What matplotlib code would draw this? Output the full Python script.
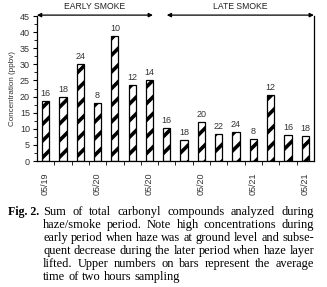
import numpy as np
import matplotlib
matplotlib.use('Agg')
import matplotlib.pyplot as plt

# bar heights (ppbv) and sampling hour labels
conc = [18.6, 19.8, 30.1, 17.9, 38.8, 23.6, 25.2,
        10.1, 6.5, 12.0, 8.4, 8.9, 6.8, 20.5, 8.1, 7.8]
hours = ['16', '18', '24', '8', '10', '12', '14',
         '16', '18', '20', '22', '24', '8', '12', '16', '18']
date_pos = [0, 3, 6, 9, 12, 15]
date_labels = ['05/19', '05/20', '05/20', '05/20', '05/21', '05/21']
periods = ['EARLY SMOKE', 'LATE SMOKE']
period_span = [(-0.5, 6.2), (7.0, 15.5)]

caption = [
    "Sum of total carbonyl compounds analyzed during",
    "haze/smoke period. Note high concentrations during",
    "early period when haze was at ground level and subse-",
    "quent decrease during the later period when haze layer",
    "lifted. Upper numbers on bars represent the average",
    "time of two hours sampling",
]

plt.rcParams['hatch.linewidth'] = 2.6
sans = 'Liberation Sans'
serif = 'Liberation Serif'

fig = plt.figure(figsize=(3.27, 2.87), dpi=100)
ax = fig.add_axes([0.113, 0.439, 0.847, 0.505])

x = np.arange(len(conc))
ax.bar(x, conc, width=0.42, color='white', edgecolor='black',
       hatch='//', linewidth=0.9)
for xi, v, h in zip(x, conc, hours):
    ax.text(xi, v + 1.0, h, ha='center', va='bottom', fontsize=6.5,
            family=sans, color='#333333')

ax.set_xlim(-0.5, 15.5)
ax.set_ylim(0, 45)
ax.set_yticks(np.arange(0, 46, 5))
ax.set_yticks(np.arange(0, 46, 2.5), minor=True)
ax.set_xticks(date_pos)
ax.set_xticklabels(date_labels, rotation=90)
ax.set_xticks(np.arange(0.5, 15.5, 1), minor=True)
ax.tick_params(axis='x', which='major', length=0, pad=8)
ax.tick_params(axis='x', which='minor', length=3, direction='out')
ax.tick_params(axis='y', which='major', length=3, direction='out', pad=2)
ax.tick_params(axis='y', which='minor', length=2, direction='out')
for lab in ax.get_xticklabels() + ax.get_yticklabels():
    lab.set_fontsize(6.5)
    lab.set_family(sans)
    lab.set_color('#333333')
ax.spines['top'].set_visible(False)
for s in ['left', 'right', 'bottom']:
    ax.spines[s].set_linewidth(0.9)
ax.set_ylabel('Concentration (ppbv)', fontsize=5.8, family=sans,
              color='#333333', labelpad=3)

# period arrows above the plot
for name, (a, b) in zip(periods, period_span):
    ax.annotate('', xy=(a, 45.3), xytext=(b, 45.3), xycoords='data',
                annotation_clip=False,
                arrowprops=dict(arrowstyle='<|-|>', color='black', lw=0.9,
                                mutation_scale=6, shrinkA=0, shrinkB=0))
    ax.text((a + b) / 2, 46.5, name, ha='center', va='bottom', fontsize=6.2,
            family=sans, color='#222222')

# justified caption
fig.canvas.draw()
r = fig.canvas.get_renderer()
W, H = fig.bbox.width, fig.bbox.height
x0, x1 = 43, 314
ys = [212, 225, 238, 251, 264, 277]
fs = 8.9
fig.text(8 / W, 1 - ys[0] / H, 'Fig. 2.', fontsize=8.6, family=serif,
         weight='bold', va='center', ha='left')
for i, (line, y) in enumerate(zip(caption, ys)):
    words = line.split()
    ts = [fig.text(0, 1 - y / H, w, fontsize=fs, family=serif,
                   va='center', ha='left') for w in words]
    widths = [t.get_window_extent(r).width for t in ts]
    if i < len(caption) - 1 and len(words) > 1:
        gap = (x1 - x0 - sum(widths)) / (len(words) - 1)
    else:
        gap = fs * 0.35
    cx = x0
    for t, w in zip(ts, widths):
        t.set_x(cx / W)
        cx += w + gap

fig.savefig('out.png', dpi=100)
